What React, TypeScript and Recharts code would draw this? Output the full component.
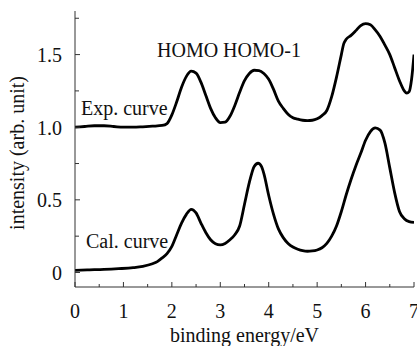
import React from 'react';
import { LineChart, Line, XAxis, YAxis } from 'recharts';

const expEnergy = [0.0, 0.2, 0.4, 0.6, 0.8, 1.0, 1.2, 1.4, 1.6, 1.8, 1.9, 2.0, 2.1, 2.2, 2.3, 2.4, 2.5, 2.6, 2.7, 2.8, 2.9, 3.0, 3.1, 3.2, 3.3, 3.4, 3.5, 3.6, 3.7, 3.8, 3.9, 4.0, 4.1, 4.2, 4.3, 4.4, 4.5, 4.6, 4.7, 4.8, 4.9, 5.0, 5.1, 5.2, 5.3, 5.4, 5.5, 5.55, 5.6, 5.7, 5.8, 5.9, 6.0, 6.1, 6.2, 6.3, 6.4, 6.5, 6.6, 6.7, 6.8, 6.85, 6.9, 6.95, 7.0];
const expIntensity = [1.0, 1.005, 1.01, 1.01, 1.005, 1.0, 1.0, 1.003, 1.007, 1.012, 1.025, 1.085, 1.175, 1.275, 1.35, 1.386, 1.372, 1.31, 1.22, 1.13, 1.065, 1.032, 1.035, 1.075, 1.15, 1.24, 1.32, 1.37, 1.392, 1.39, 1.37, 1.33, 1.26, 1.18, 1.13, 1.09, 1.065, 1.055, 1.048, 1.046, 1.048, 1.058, 1.08, 1.115, 1.21, 1.345, 1.5, 1.575, 1.605, 1.632, 1.665, 1.7, 1.713, 1.705, 1.67, 1.625, 1.565, 1.5, 1.41, 1.32, 1.25, 1.235, 1.245, 1.33, 1.5];

const calEnergy = [0.0, 0.3, 0.6, 0.9, 1.2, 1.4, 1.6, 1.7, 1.8, 1.9, 2.0, 2.1, 2.2, 2.3, 2.4, 2.5, 2.6, 2.7, 2.8, 2.9, 3.0, 3.1, 3.2, 3.3, 3.4, 3.5, 3.6, 3.7, 3.78, 3.85, 3.9, 4.0, 4.1, 4.2, 4.3, 4.4, 4.5, 4.6, 4.7, 4.8, 4.9, 5.0, 5.1, 5.2, 5.3, 5.4, 5.5, 5.6, 5.7, 5.8, 5.9, 6.0, 6.1, 6.2, 6.3, 6.4, 6.5, 6.6, 6.7, 6.8, 6.9, 7.0];
const calIntensity = [0.015, 0.018, 0.021, 0.026, 0.033, 0.042, 0.06, 0.075, 0.1, 0.13, 0.18, 0.26, 0.34, 0.4, 0.435, 0.41, 0.34, 0.275, 0.225, 0.198, 0.19, 0.2, 0.225, 0.26, 0.32, 0.47, 0.62, 0.73, 0.752, 0.73, 0.68, 0.53, 0.4, 0.3, 0.24, 0.2, 0.175, 0.16, 0.15, 0.146, 0.148, 0.155, 0.17, 0.2, 0.25, 0.32, 0.42, 0.535, 0.64, 0.735, 0.82, 0.91, 0.97, 0.995, 0.98, 0.89, 0.72, 0.55, 0.42, 0.37, 0.35, 0.345];

const xTicks = [0, 0.5, 1, 1.5, 2, 2.5, 3, 3.5, 4, 4.5, 5, 5.5, 6, 6.5, 7];
const yTicks = [0, 0.25, 0.5, 0.75, 1, 1.25, 1.5, 1.75];

const xTitle = 'binding energy/eV';
const yTitle = 'intensity (arb. unit)';
const peakLabel = 'HOMO HOMO-1';
const expLabel = 'Exp. curve';
const calLabel = 'Cal. curve';

const expData = expEnergy.map((e, i) => ({ e, v: expIntensity[i] }));
const calData = calEnergy.map((e, i) => ({ e, v: calIntensity[i] }));

const AXIS = '#333';
const FONT = "'Liberation Serif','Times New Roman',Times,serif";
const FS = 20;

const isInt = (v: number) => Math.abs(v - Math.round(v)) < 1e-6;
const isHalf = (v: number) => Math.abs(v * 2 - Math.round(v * 2)) < 1e-6;

function BottomTick(props: any) {
  const { x, y, payload } = props;
  const v = payload.value;
  const major = isInt(v);
  return (
    <g>
      <line x1={x} x2={x} y1={y} y2={y - (major ? 5 : 3)} stroke={AXIS} strokeWidth={1} />
      {major && (
        <text x={x} y={y + 31} textAnchor="middle" fontSize={FS} fontFamily={FONT} fill="#111">
          {String(v)}
        </text>
      )}
    </g>
  );
}

function TopTick(props: any) {
  const { x, y, payload } = props;
  const major = isInt(payload.value);
  return <line x1={x} x2={x} y1={y} y2={y + (major ? 5 : 3)} stroke={AXIS} strokeWidth={1} />;
}

function LeftTick(props: any) {
  const { x, y, payload } = props;
  const v = payload.value;
  const major = isHalf(v);
  return (
    <g>
      <line x1={x} x2={x + (major ? 5 : 4)} y1={y} y2={y} stroke={AXIS} strokeWidth={1} />
      {major && (
        <text x={x - 13} y={y + 7.5} textAnchor="end" fontSize={FS} fontFamily={FONT} fill="#111">
          {v === 0 ? '0' : v.toFixed(1)}
        </text>
      )}
    </g>
  );
}

export default function App() {
  return (
    <div style={{ position: 'absolute', left: 0, top: 0, width: 417, height: 346, background: '#fff' }}>
      <LineChart width={417} height={346} margin={{ top: 11, right: 3, bottom: 0, left: 0 }}>
        <XAxis
          dataKey="e"
          type="number"
          domain={[0, 7]}
          ticks={xTicks}
          interval={0}
          allowDataOverflow
          height={59}
          tickSize={0}
          tickMargin={0}
          tickLine={false}
          tick={<BottomTick />}
          axisLine={{ stroke: AXIS, strokeWidth: 1 }}
        />
        <XAxis
          xAxisId="top"
          orientation="top"
          dataKey="e"
          type="number"
          domain={[0, 7]}
          ticks={xTicks}
          interval={0}
          allowDataOverflow
          height={0}
          tickSize={0}
          tickMargin={0}
          tickLine={false}
          tick={<TopTick />}
          axisLine={{ stroke: AXIS, strokeWidth: 1 }}
        />
        <YAxis
          type="number"
          domain={[-0.1, 1.8]}
          ticks={yTicks}
          interval={0}
          allowDataOverflow
          width={75}
          tickSize={0}
          tickMargin={0}
          tickLine={false}
          tick={<LeftTick />}
          axisLine={{ stroke: AXIS, strokeWidth: 1 }}
        />
        <Line data={expData} dataKey="v" type="monotone" stroke="#000" strokeWidth={2.8} dot={false} isAnimationActive={false} />
        <Line data={calData} dataKey="v" type="monotone" stroke="#000" strokeWidth={2.8} dot={false} isAnimationActive={false} />
        <text x={244.5} y={342} textAnchor="middle" fontSize={FS} fontFamily={FONT} fill="#111">{xTitle}</text>
        <text x={24} y={153} textAnchor="middle" fontSize={FS} fontFamily={FONT} fill="#111" transform="rotate(-90 24 153)">{yTitle}</text>
        <text x={157} y={57} fontSize={FS} fontFamily={FONT} fill="#111">{peakLabel}</text>
        <text x={81} y={114.5} fontSize={FS} fontFamily={FONT} fill="#111">{expLabel}</text>
        <text x={86} y={248} fontSize={FS} fontFamily={FONT} fill="#111">{calLabel}</text>
      </LineChart>
    </div>
  );
}
